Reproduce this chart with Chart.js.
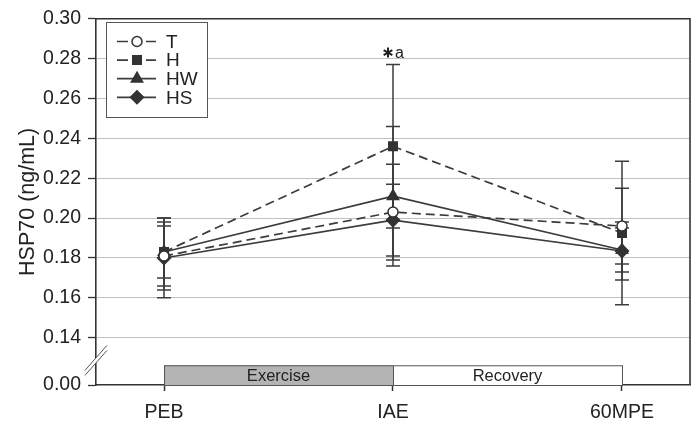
<!DOCTYPE html>
<html>
<head>
<meta charset="utf-8">
<script src="https://cdn.jsdelivr.net/npm/chart.js@4.4.1/dist/chart.umd.min.js"></script>
<style>
  html, body { margin: 0; padding: 0; background: #fff; }
</style>
</head>
<body>
<canvas id="hspChart" width="700" height="424"></canvas>
<script>
// time points and phases
const timePoints = ['PEB', 'IAE', '60MPE'];
const phaseLabels = ['Exercise', 'Recovery'];
const phaseFrom = [0, 1];
const phaseTo = [1, 2];
const phaseFills = ['#b4b4b4', '#ffffff'];

// group means and SD (ng/mL)
const seriesNames = ['T', 'H', 'HW', 'HS'];
const meanT  = [0.181, 0.203, 0.196];
const meanH  = [0.183, 0.236, 0.1925];
const meanHW = [0.183, 0.211, 0.184];
const meanHS = [0.180, 0.199, 0.1835];
const sdT  = [0.017, 0.024, 0.019];
const sdH  = [0.017, 0.041, 0.036];
const sdHW = [0.013, 0.035, 0.011];
const sdHS = [0.020, 0.018, 0.0145];

// significance mark over H at IAE
const sigIndex = 1;
const sigLetter = 'a';

// y axis: broken axis, bottom drawn as 0.00
const yTickValues = [0.14, 0.16, 0.18, 0.20, 0.22, 0.24, 0.26, 0.28, 0.30];
const yBreakValue = 0.1163;
const yBreakLabel = '0.00';
const phaseTop = 0.1262;

const ink = '#333333';
const lineInk = '#3c3c3c';
const FONT = '"Liberation Sans", Arial, Helvetica, sans-serif';

const means = [meanT, meanH, meanHW, meanHS];
const sds = [sdT, sdH, sdHW, sdHS];
const dashes = [[9, 5], [9, 5], [], []];
const pointStyles = ['circle', 'rect', 'triangle', 'rectRot'];
const pointRadii = [5, 6, 6.5, 6.5];
const pointFills = ['#ffffff', ink, ink, ink];

const datasets = seriesNames.map((name, s) => ({
    label: name,
    data: means[s].map((v, i) => ({ x: i, y: v })),
    borderColor: lineInk,
    borderWidth: 1.7,
    borderDash: dashes[s],
    pointStyle: pointStyles[s],
    pointRadius: pointRadii[s],
    pointBackgroundColor: pointFills[s],
    pointBorderColor: ink,
    pointBorderWidth: 1.5,
    tension: 0,
    fill: false
}));

function drawMarker(ctx, style, x, y, r) {
    Chart.helpers.drawPoint(ctx, { pointStyle: style, radius: r, borderWidth: 1.5, rotation: 0 }, x, y);
}

const extras = {
    id: 'extras',
    beforeDatasetsDraw(chart) {
        const ctx = chart.ctx;
        const xs = chart.scales.x;
        const ys = chart.scales.y;

        // exercise / recovery phase boxes
        ctx.save();
        phaseLabels.forEach((label, p) => {
            const x0 = xs.getPixelForValue(phaseFrom[p]);
            const x1 = xs.getPixelForValue(phaseTo[p]);
            const y0 = ys.getPixelForValue(phaseTop);
            const y1 = ys.getPixelForValue(yBreakValue);
            ctx.fillStyle = phaseFills[p];
            ctx.fillRect(x0, y0, x1 - x0, y1 - y0);
            ctx.strokeStyle = '#555';
            ctx.lineWidth = 1;
            ctx.strokeRect(x0 + 0.5, y0 + 0.5, x1 - x0, y1 - y0);
            ctx.fillStyle = '#222';
            ctx.font = '16.5px ' + FONT;
            ctx.textAlign = 'center';
            ctx.textBaseline = 'middle';
            ctx.fillText(label, (x0 + x1) / 2, (y0 + y1) / 2 + 1);
        });

        // error bars
        ctx.strokeStyle = lineInk;
        ctx.lineWidth = 1.5;
        means.forEach((m, s) => {
            m.forEach((v, i) => {
                const x = xs.getPixelForValue(i);
                const yTop = ys.getPixelForValue(v + sds[s][i]);
                const yBot = ys.getPixelForValue(v - sds[s][i]);
                ctx.beginPath();
                ctx.moveTo(x, yTop);
                ctx.lineTo(x, yBot);
                ctx.moveTo(x - 7, yTop);
                ctx.lineTo(x + 7, yTop);
                ctx.moveTo(x - 7, yBot);
                ctx.lineTo(x + 7, yBot);
                ctx.stroke();
            });
        });
        ctx.restore();
    },
    afterDraw(chart) {
        const ctx = chart.ctx;
        const area = chart.chartArea;
        const xs = chart.scales.x;
        const ys = chart.scales.y;
        ctx.save();

        // top and right frame
        ctx.strokeStyle = ink;
        ctx.lineWidth = 1.6;
        ctx.beginPath();
        ctx.moveTo(area.left, area.top);
        ctx.lineTo(area.right, area.top);
        ctx.lineTo(area.right, area.bottom);
        ctx.stroke();

        // axis break marks
        const by = (ys.getPixelForValue(0.14) + ys.getPixelForValue(yBreakValue)) / 2 - 1;
        const bx = area.left;
        ctx.fillStyle = '#fff';
        ctx.beginPath();
        ctx.moveTo(bx - 11, by + 10);
        ctx.lineTo(bx + 11, by - 15);
        ctx.lineTo(bx + 11, by - 10);
        ctx.lineTo(bx - 11, by + 15);
        ctx.closePath();
        ctx.fill();
        ctx.strokeStyle = '#555';
        ctx.lineWidth = 1;
        ctx.beginPath();
        ctx.moveTo(bx - 11, by + 10);
        ctx.lineTo(bx + 11, by - 15);
        ctx.moveTo(bx - 11, by + 15);
        ctx.lineTo(bx + 11, by - 10);
        ctx.stroke();

        // significance mark: asterisk + letter
        const sx = xs.getPixelForValue(sigIndex);
        const sy = ys.getPixelForValue(meanH[sigIndex] + sdH[sigIndex]);
        const ax = sx - 5, ay = sy - 12;
        ctx.strokeStyle = '#222';
        ctx.lineWidth = 2;
        ctx.beginPath();
        for (let k = 0; k < 3; k++) {
            const a = Math.PI / 2 + k * Math.PI / 3;
            ctx.moveTo(ax - Math.cos(a) * 5, ay - Math.sin(a) * 5);
            ctx.lineTo(ax + Math.cos(a) * 5, ay + Math.sin(a) * 5);
        }
        ctx.stroke();
        ctx.fillStyle = '#222';
        ctx.font = '16px ' + FONT;
        ctx.textAlign = 'left';
        ctx.textBaseline = 'alphabetic';
        ctx.fillText(sigLetter, sx + 2, sy - 7);

        // legend
        const lx = 106, ly = 22, lw = 101, lh = 95;
        ctx.fillStyle = '#fff';
        ctx.fillRect(lx, ly, lw, lh);
        ctx.strokeStyle = '#555';
        ctx.lineWidth = 1;
        ctx.strokeRect(lx + 0.5, ly + 0.5, lw, lh);
        seriesNames.forEach((name, s) => {
            const ry = 41.5 + s * 18.6;
            ctx.strokeStyle = lineInk;
            ctx.lineWidth = 1.7;
            ctx.setLineDash(dashes[s].length ? [11, 18] : []);
            ctx.beginPath();
            ctx.moveTo(117, ry);
            ctx.lineTo(156, ry);
            ctx.stroke();
            ctx.setLineDash([]);
            ctx.fillStyle = pointFills[s];
            ctx.strokeStyle = ink;
            ctx.lineWidth = 1.5;
            drawMarker(ctx, pointStyles[s], 137, ry, pointRadii[s]);
            ctx.fillStyle = '#222';
            ctx.font = '19px ' + FONT;
            ctx.textAlign = 'left';
            ctx.textBaseline = 'middle';
            ctx.fillText(name, 166, ry + 1);
        });
        ctx.restore();
    }
};

new Chart(document.getElementById('hspChart').getContext('2d'), {
    type: 'line',
    data: { datasets: datasets },
    options: {
        responsive: false,
        animation: false,
        devicePixelRatio: 1,
        layout: { padding: { top: 13, right: 10, bottom: 0, left: 0 } },
        plugins: {
            legend: { display: false },
            tooltip: { enabled: false }
        },
        scales: {
            x: {
                type: 'linear',
                min: -0.297,
                max: 2.297,
                afterBuildTicks: (axis) => { axis.ticks = timePoints.map((t, i) => ({ value: i })); },
                afterFit: (axis) => { axis.height = 39; },
                ticks: {
                    autoSkip: false,
                    maxRotation: 0,
                    padding: 10,
                    color: '#222',
                    font: { family: FONT, size: 19.5 },
                    callback: (v) => timePoints[v]
                },
                grid: { drawOnChartArea: false, drawTicks: true, tickLength: 6, tickColor: ink, tickWidth: 1.5 },
                border: { color: ink, width: 1.6 }
            },
            y: {
                min: yBreakValue,
                max: 0.30,
                afterBuildTicks: (axis) => {
                    axis.ticks = [yBreakValue].concat(yTickValues).map(v => ({ value: v }));
                },
                afterFit: (axis) => { axis.width = 96; },
                ticks: {
                    padding: 7,
                    color: '#222',
                    font: { family: FONT, size: 19.5 },
                    callback: (v) => v === yBreakValue ? yBreakLabel : v.toFixed(2)
                },
                grid: {
                    color: (c) => (c.tick && c.tick.value === yBreakValue) ? 'rgba(0,0,0,0)' : '#c0c0c0',
                    lineWidth: 1,
                    tickLength: 8,
                    tickColor: ink,
                    tickWidth: 1.3
                },
                border: { color: ink, width: 1.6 },
                title: {
                    display: true,
                    text: 'HSP70 (ng/mL)',
                    color: '#222',
                    font: { family: FONT, size: 21.5 },
                    padding: { top: 15, bottom: 0 }
                }
            }
        }
    },
    plugins: [extras]
});
</script>
</body>
</html>
